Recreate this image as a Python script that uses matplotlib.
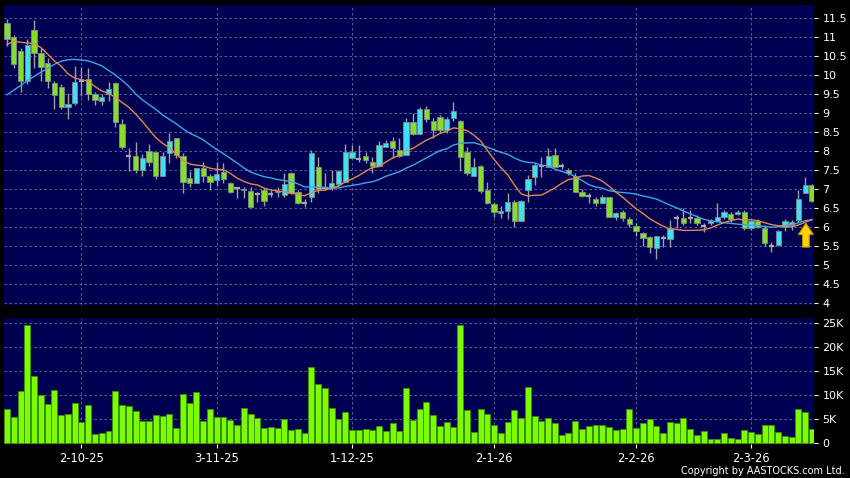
import matplotlib
matplotlib.use("Agg")
import matplotlib.pyplot as plt
import numpy as np
import pandas as pd
from matplotlib.patches import FancyArrow

# ---------------- data ----------------
opens = [11.36, 10.99, 10.64, 9.84, 11.17, 10.57, 10.31, 9.78, 9.69, 9.15,
         9.25, 9.85, 9.89, 9.49, 9.32, 9.49, 9.78, 8.70, 7.88, 7.87,
         7.50, 8.00, 7.96, 7.35, 7.94, 8.34, 7.88, 7.28, 7.15, 7.54,
         7.34, 7.24, 7.44, 7.15, 7.02, 6.98, 6.94, 6.87, 6.96, 6.87,
         6.91, 6.84, 7.43, 6.93, 6.62, 6.78, 7.57, 7.02, 7.02, 7.13,
         7.19, 7.81, 7.78, 7.88, 7.70, 7.61, 8.10, 8.25, 8.03, 7.89,
         8.77, 8.45, 9.10, 8.79, 8.89, 8.54, 8.86, 8.80, 7.98, 7.35,
         7.61, 6.97, 6.61, 6.36, 6.42, 6.66, 6.17, 6.97, 7.31, 7.61,
         7.59, 7.89, 7.61, 7.50, 7.34, 6.93, 6.82, 6.74, 6.64, 6.78,
         6.27, 6.40, 6.21, 6.03, 5.85, 5.73, 5.44, 5.70, 5.68, 6.23,
         6.23, 6.23, 6.23, 6.03, 6.10, 6.16, 6.25, 6.33, 6.33, 6.39,
         5.96, 6.16, 5.98, 5.51, 5.53, 6.01, 6.05, 6.18, 6.89, 7.11]
highs = [11.46, 11.05, 10.70, 10.94, 11.45, 10.70, 10.44, 9.85, 9.76, 9.52,
         10.24, 10.22, 10.18, 9.56, 9.50, 9.82, 9.82, 8.83, 8.07, 8.24,
         7.92, 8.18, 7.98, 7.97, 8.48, 8.34, 7.94, 7.48, 7.54, 7.70,
         7.39, 7.70, 7.68, 7.19, 7.06, 7.06, 7.06, 6.93, 7.02, 6.98,
         7.06, 7.41, 7.45, 6.96, 6.73, 8.03, 7.85, 7.41, 7.50, 7.50,
         8.18, 8.16, 8.16, 7.98, 7.85, 8.25, 8.29, 8.38, 8.33, 8.86,
         8.99, 9.15, 9.17, 8.86, 8.95, 8.90, 9.28, 8.82, 8.11, 7.81,
         7.63, 7.19, 6.67, 6.54, 6.89, 6.71, 6.71, 7.37, 7.68, 7.83,
         8.07, 8.07, 7.68, 7.55, 7.41, 7.00, 6.89, 6.80, 6.84, 6.80,
         6.40, 6.45, 6.27, 6.10, 5.88, 5.76, 5.77, 5.79, 6.18, 6.32,
         6.49, 6.45, 6.32, 6.10, 6.20, 6.64, 6.45, 6.40, 6.45, 6.45,
         6.18, 6.20, 6.05, 5.61, 5.92, 6.20, 6.18, 6.97, 7.32, 7.13]
lows = [10.75, 10.18, 9.56, 9.76, 10.18, 9.85, 9.65, 9.10, 9.10, 8.83,
        9.21, 9.45, 9.34, 9.21, 9.21, 9.32, 8.64, 8.04, 7.48, 7.41,
        7.35, 7.61, 7.25, 7.35, 7.69, 7.81, 6.90, 7.04, 7.15, 7.19,
        6.96, 7.09, 7.16, 6.89, 6.75, 6.75, 6.50, 6.67, 6.54, 6.80,
        6.80, 6.80, 6.87, 6.61, 6.52, 6.67, 6.89, 6.96, 6.97, 7.06,
        7.19, 7.81, 7.72, 7.68, 7.41, 7.61, 8.10, 7.81, 7.85, 7.89,
        8.42, 8.45, 8.77, 8.33, 8.46, 8.46, 8.80, 7.48, 7.37, 7.34,
        6.89, 6.61, 6.27, 6.23, 6.20, 6.01, 6.17, 6.67, 7.11, 7.31,
        7.59, 7.59, 7.52, 7.37, 6.93, 6.80, 6.62, 6.54, 6.62, 6.25,
        6.18, 6.15, 6.00, 5.75, 5.50, 5.32, 5.17, 5.48, 5.46, 5.96,
        6.06, 6.10, 6.05, 5.88, 6.05, 6.16, 6.20, 6.14, 6.32, 5.92,
        5.92, 5.96, 5.50, 5.35, 5.50, 5.90, 5.92, 6.14, 6.89, 6.66]
closes = [10.94, 10.29, 9.84, 10.78, 10.57, 10.20, 9.84, 9.47, 9.15, 9.23,
          9.81, 9.85, 9.49, 9.34, 9.41, 9.62, 8.75, 8.11, 7.88, 7.50,
          7.81, 7.70, 7.35, 7.88, 8.25, 7.89, 7.17, 7.15, 7.54, 7.35,
          7.19, 7.39, 7.25, 6.93, 7.02, 7.00, 6.52, 6.87, 6.69, 6.87,
          6.95, 7.13, 6.90, 6.62, 6.62, 7.94, 6.99, 7.02, 7.15, 7.48,
          7.96, 7.96, 7.78, 7.75, 7.61, 8.16, 8.22, 8.07, 7.88, 8.77,
          8.45, 9.10, 8.83, 8.55, 8.55, 8.83, 9.04, 7.83, 7.41, 7.59,
          6.95, 6.62, 6.39, 6.42, 6.66, 6.17, 6.68, 7.25, 7.63, 7.61,
          7.87, 7.59, 7.61, 7.41, 6.93, 6.82, 6.82, 6.62, 6.78, 6.27,
          6.36, 6.23, 6.07, 5.90, 5.70, 5.46, 5.75, 5.70, 5.96, 6.23,
          6.10, 6.23, 6.10, 6.03, 6.16, 6.25, 6.39, 6.20, 6.40, 5.96,
          6.16, 6.01, 5.57, 5.51, 5.89, 6.16, 6.14, 6.73, 7.11, 6.69]
volumes_k = [7.15, 5.56, 10.97, 24.65, 14.03, 10.07, 8.13, 11.1, 5.83, 6.04,
             8.47, 4.38, 7.92, 2.01, 2.08, 2.5, 10.83, 7.99, 7.85, 6.81,
             4.65, 4.72, 5.9, 5.63, 6.11, 3.13, 10.21, 8.33, 10.76, 4.65,
             7.15, 5.49, 5.49, 4.86, 3.75, 7.36, 6.04, 5.28, 3.26, 3.4,
             3.19, 5.14, 2.85, 2.92, 2.22, 15.9, 12.29, 11.53, 7.29, 5.14,
             6.53, 2.85, 2.71, 3.06, 2.85, 3.54, 2.5, 4.24, 2.5, 11.46,
             4.79, 7.15, 8.61, 5.97, 3.61, 4.44, 3.33, 24.65, 6.94, 2.29,
             7.15, 6.04, 3.75, 2.15, 4.38, 7.01, 5.35, 11.81, 5.76, 4.58,
             5.35, 4.17, 1.81, 2.22, 4.72, 2.99, 3.68, 3.82, 3.89, 3.4,
             2.71, 2.92, 7.22, 3.19, 4.31, 5.07, 3.68, 2.08, 4.38, 4.31,
             5.28, 2.92, 1.67, 2.57, 0.97, 0.97, 2.22, 1.18, 0.83, 2.78,
             2.36, 1.88, 3.89, 3.89, 2.36, 1.6, 1.32, 7.15, 6.46, 3.06]
# moving-average values at the left edge (earlier data is not shown)
ma10_head = [10.80, 10.89, 10.86, 10.84, 10.83, 10.72, 10.55, 10.37, 10.23]
ma20_head = [9.48, 9.60, 9.72, 9.85, 9.96, 10.07, 10.17, 10.28, 10.36, 10.40,
             10.41, 10.39, 10.37, 10.31, 10.24, 10.12, 10.00, 9.86, 9.70]
date_tick_idx = [11, 31, 51, 72, 93, 110]
date_tick_labels = ["2-10-25", "3-11-25", "1-12-25", "2-1-26", "2-2-26", "2-3-26"]
price_ticks = [4, 4.5, 5, 5.5, 6, 6.5, 7, 7.5, 8, 8.5, 9, 9.5, 10, 10.5, 11, 11.5]
vol_ticks_k = [0, 5, 10, 15, 20, 25]
arrow_idx = 118.1
arrow_base, arrow_tip = 5.47, 6.10

# ---------------- styling ----------------
BG = "#000050"
GRID = "#6C6CA6"
UP = "#3DE2EE"
DOWN = "#86DE2C"
DOJI = "#A8A8A8"
WICK = "#A0A0A0"
EDGE = "#7E8C86"
VOL = "#7CFC00"
VOL_EDGE = "#3E8E00"
MA10_C = "#E0884E"
MA20_C = "#40A4E6"

n = len(closes)
x = np.arange(n)
o = np.array(opens); h = np.array(highs); l = np.array(lows); c = np.array(closes)

ma10 = pd.Series(closes).rolling(10).mean().to_numpy()
ma10[:len(ma10_head)] = ma10_head
ma20 = pd.Series(closes).rolling(20).mean().to_numpy()
ma20[:len(ma20_head)] = ma20_head

W, H = 850, 478
fig = plt.figure(figsize=(W / 100, H / 100), dpi=100, facecolor="black")
ax = fig.add_axes([4 / W, 1 - 305 / H, 810 / W, 300 / H], facecolor=BG)
axv = fig.add_axes([4 / W, 1 - 444 / H, 810 / W, 126 / H], facecolor=BG)

xlim = (-0.45, n - 0.7)

# --- price panel ---
ax.vlines(x, l, h, color=WICK, linewidth=1.0, zorder=2)
up = c > o
down = c < o
flat = c == o
body_w = 0.78
ax.bar(x[up], (c - o)[up], bottom=o[up], width=body_w, color=UP,
       edgecolor=EDGE, linewidth=0.6, zorder=3)
ax.bar(x[down], (o - c)[down], bottom=c[down], width=body_w, color=DOWN,
       edgecolor=EDGE, linewidth=0.6, zorder=3)
ax.hlines(c[flat], x[flat] - body_w / 2, x[flat] + body_w / 2, color=DOJI,
          linewidth=1.6, zorder=3)

ax.plot(x, ma20, color=MA20_C, linewidth=1.0, zorder=4)
ax.plot(x, ma10, color=MA10_C, linewidth=1.0, zorder=4)

arr = FancyArrow(arrow_idx, arrow_base, 0, arrow_tip - arrow_base, width=1.0,
                 head_width=2.2, head_length=0.3, length_includes_head=True,
                 facecolor="#FFD200", edgecolor="#C98E00", linewidth=0.8,
                 zorder=6)
ax.add_patch(arr)

ax.set_xlim(*xlim)
ax.set_ylim(3.947, 11.84)
ax.set_yticks(price_ticks)
ax.set_yticklabels([f"{t:g}" for t in price_ticks])
ax.set_xticks(date_tick_idx)
ax.tick_params(axis="x", which="both", bottom=False, labelbottom=False)
ax.yaxis.tick_right()
ax.tick_params(axis="y", colors="white", labelcolor="white", labelsize=8,
               length=3, width=0.8, pad=3)
ax.grid(True, color=GRID, linestyle=(0, (3, 3)), linewidth=0.6)
ax.set_axisbelow(True)
for s in ax.spines.values():
    s.set_visible(False)

# --- volume panel ---
axv.bar(x, volumes_k, width=0.88, color=VOL, edgecolor=VOL_EDGE,
        linewidth=0.6, zorder=3)
axv.set_xlim(*xlim)
axv.set_ylim(-0.15, 26.1)
axv.set_yticks(vol_ticks_k)
axv.set_yticklabels(["0" if v == 0 else f"{v}K" for v in vol_ticks_k])
axv.yaxis.tick_right()
axv.tick_params(axis="y", colors="white", labelcolor="white", labelsize=8,
                length=3, width=0.8, pad=3)
axv.set_xticks(date_tick_idx)
axv.set_xticklabels(date_tick_labels)
axv.tick_params(axis="x", colors="white", labelcolor="white", labelsize=8.3,
                length=3, width=0.8, pad=3)
axv.grid(True, color=GRID, linestyle=(0, (3, 3)), linewidth=0.6)
axv.set_axisbelow(True)
for s in axv.spines.values():
    s.set_visible(False)

fig.text(845 / W, 1 - 471 / H, "Copyright by AASTOCKS.com Ltd.", ha="right",
         va="center", color="white", fontsize=7)

fig.savefig("out.png", dpi=100, facecolor="black")
